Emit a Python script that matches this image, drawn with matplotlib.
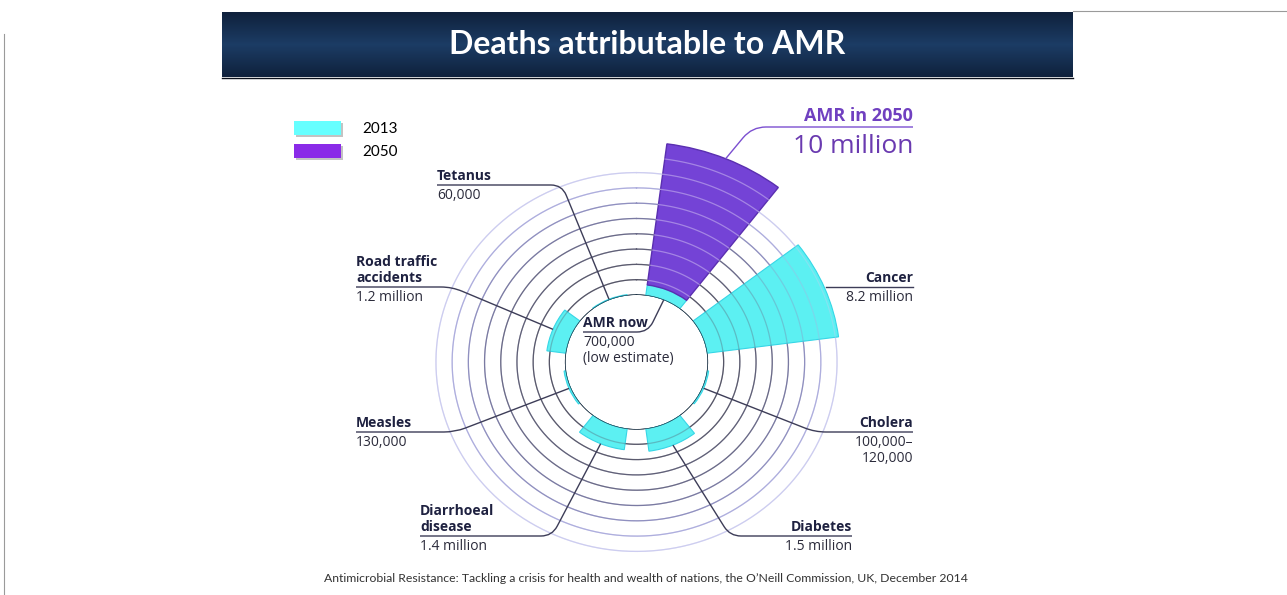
import numpy as np
import matplotlib
matplotlib.use("Agg")
import matplotlib.pyplot as plt
from matplotlib.patches import Patch, PathPatch
from matplotlib.path import Path
from matplotlib.lines import Line2D
from matplotlib.transforms import IdentityTransform
from matplotlib.colors import LinearSegmentedColormap
import matplotlib.patheffects as pe

W, H = 1287, 595

# deaths per year, millions (2013 estimates, AMR also projected for 2050)
causes = ["AMR", "Cancer", "Cholera", "Diabetes", "Diarrhoeal disease",
          "Measles", "Road traffic accidents", "Tetanus"]
deaths_2013 = [0.7, 8.2, 0.11, 1.5, 1.4, 0.13, 1.2, 0.06]
amr_2050 = 10.0
legend_labels = ["2013", "2050"]

name_lines = [["AMR now"], ["Cancer"], ["Cholera"], ["Diabetes"],
              ["Diarrhoeal", "disease"], ["Measles"],
              ["Road traffic", "accidents"], ["Tetanus"]]
value_lines = [["700,000", "(low estimate)"], ["8.2 million"],
               ["100,000\u2013", "120,000"], ["1.5 million"], ["1.4 million"],
               ["130,000"], ["1.2 million"], ["60,000"]]

# label placement in image pixels: text x, alignment, underline y, corner x
label_layout = [(583, "left", 332, 648), (913, "right", 287, 826),
                (913, "right", 432, 815), (852, "right", 536, 730),
                (420, "left", 536, 552), (356, "left", 432, 455),
                (356, "left", 287, 452), (437, "left", 185, 562)]

CYAN = "#5CF0F2"
PURPLE = "#7443D6"
NAVY = "#1e2140"
VALUE_COL = "#2b2b3b"
LEADER = "#3d3d58"
AMR_TEXT = "#7040c0"
ring_colors = ["#23384a", "#565668", "#5a5a6e", "#606078", "#6a6a88",
               "#7a7aa2", "#9090c0", "#aeaede", "#cdcdf0"]

hole = 4.38
rmax = 10.6
px_h, px_v = 16.2, 15.3
cx_img, cy_img = 636.5, 362

fig = plt.figure(figsize=(W / 100, H / 100), dpi=100)


def put(x, y, s, **kw):
    return fig.text(x / W, 1 - y / H, s, **kw)


# title bar
ax_t = fig.add_axes([222 / W, 1 - 77 / H, 851 / W, 65 / H])
grad = np.abs(np.linspace(-1, 1, 80)).reshape(-1, 1)
cmap = LinearSegmentedColormap.from_list("bar", ["#1c3c64", "#0f213c"])
ax_t.imshow(grad, aspect="auto", cmap=cmap, extent=[0, 1, 0, 1])
ax_t.set_axis_off()
ax_t.text(0.5, 0.5, "Deaths attributable to AMR", color="white",
          fontsize=23, fontweight="bold", family="Lato",
          ha="center", va="center", transform=ax_t.transAxes)
fig.add_artist(Line2D([222 / W, 1073 / W], [1 - 77.5 / H] * 2, color="#0a0f1a", lw=1))

# slide borders
fig.add_artist(Line2D([4 / W, 4 / W], [0, 1 - 34 / H], color="#9a9a9a", lw=0.8))
fig.add_artist(Line2D([1073 / W, 1], [1 - 11 / H] * 2, color="#9a9a9a", lw=0.8))

# polar chart
Rh = (rmax + hole) * px_h
Rv = (rmax + hole) * px_v
ax = fig.add_axes([(cx_img - Rh) / W, (H - cy_img - Rv) / H, 2 * Rh / W, 2 * Rv / H],
                  projection="polar")
ax.set_theta_zero_location("N")
ax.set_theta_direction(-1)
ax.set_rorigin(-hole)
ax.set_ylim(0, rmax)
ax.set_aspect("auto")
ax.set_axis_off()

angles = np.deg2rad(22.5 + 45 * np.arange(len(causes)))
width = np.deg2rad(30)

bars13 = ax.bar(angles, deaths_2013, width=width, bottom=0, color=CYAN,
                edgecolor="#36d6e6", lw=0.8, zorder=2)
bars50 = ax.bar(angles[0], amr_2050 - deaths_2013[0], width=width,
                bottom=deaths_2013[0], color=PURPLE, edgecolor="#5a2fb0",
                lw=1, zorder=2)

full = np.linspace(0, 2 * np.pi, 500)
rest = np.linspace(angles[0] + width / 2, angles[0] + width / 2 + np.deg2rad(330), 500)
for k, col in enumerate(ring_colors):
    ax.plot(full, np.full_like(full, k), color=col, lw=0.9, zorder=1)
    th = full if k == 0 else rest
    ax.plot(th, np.full_like(th, k), color=col, lw=0.9, alpha=0.35 if k else 1, zorder=3)

arc = np.linspace(angles[0] - width / 2, angles[0] + width / 2, 100)
for k in range(1, 10):
    ax.plot(arc, np.full_like(arc, k), color="white", lw=0.9, alpha=0.35, zorder=3)

fig.canvas.draw()


def leader(theta, r, x_start, x_corner, y, color, rad=11):
    tx, ty = ax.transData.transform((theta, r))
    yy = H - y
    d = np.array([tx - x_corner, ty - yy])
    d = d / np.hypot(*d)
    u = np.sign(x_start - x_corner)
    verts = [(x_start, yy), (x_corner + u * rad, yy), (x_corner, yy),
             (x_corner + d[0] * rad, yy + d[1] * rad), (tx, ty)]
    codes = [Path.MOVETO, Path.LINETO, Path.CURVE3, Path.CURVE3, Path.LINETO]
    fig.add_artist(PathPatch(Path(verts, codes), fc="none", ec=color, lw=1,
                             transform=IdentityTransform()))


for i, cause in enumerate(causes):
    x, ha, yu, corner = label_layout[i]
    for j, line in enumerate(reversed(name_lines[i])):
        put(x, yu - 5 - 16 * j, line, ha=ha, va="baseline", fontsize=10,
            fontweight="bold", color=NAVY, family="Open Sans")
    for j, line in enumerate(value_lines[i]):
        put(x, yu + 14 + 16 * j, line, ha=ha, va="baseline", fontsize=10,
            color=VALUE_COL, family="Open Sans")
    if cause == "Cancer":
        fig.add_artist(Line2D([x / W, corner / W], [1 - yu / H] * 2, color=LEADER, lw=1))
    else:
        leader(angles[i], deaths_2013[i] if cause != "AMR" else 0, x, corner, yu, LEADER)

# AMR 2050 callout
put(913, 121, "AMR in 2050", ha="right", va="baseline", fontsize=13,
    fontweight="bold", color=AMR_TEXT, family="Open Sans")
put(913, 153, "10 million", ha="right", va="baseline", fontsize=19,
    color="#6a3ab0", family="Open Sans")
leader(angles[0], amr_2050, 913, 752, 127, "#7b4fd0", rad=14)

# legend
handles = [Patch(facecolor="#66FFFF", edgecolor="none"),
           Patch(facecolor="#8A2BE8", edgecolor="none")]
fs_px = 11 * 100 / 72
leg = fig.legend(handles, legend_labels, loc="upper left",
                 bbox_to_anchor=(294 / W, 1 - 121 / H), frameon=False,
                 prop={"family": "Lato", "size": 11},
                 handlelength=47 / fs_px, handleheight=16 / fs_px,
                 labelspacing=0.5, handletextpad=1.4, borderpad=0,
                 borderaxespad=0)
for p in leg.get_patches():
    p.set_path_effects([pe.withSimplePatchShadow(offset=(1.5, -1.5),
                                                  shadow_rgbFace="#888888", alpha=0.5)])

put(646, 578, "Antimicrobial Resistance: Tackling a crisis for health and wealth of nations, "
    "the O\u2019Neill Commission, UK, December 2014", ha="center", va="center",
    fontsize=8.8, color="#333333", family="Lato")

fig.savefig("out.png", dpi=100)
